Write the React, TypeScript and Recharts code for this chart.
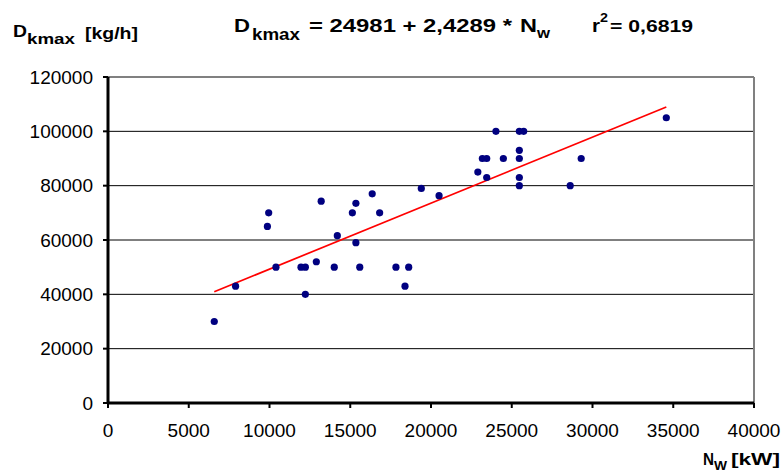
import React from 'react';
import { ScatterChart, Scatter, XAxis, YAxis, CartesianGrid, ReferenceLine } from 'recharts';

const nwKW = [6580, 7900, 10400, 11950, 12220, 12220, 12900, 14010, 15350, 15590, 17830, 18620, 18390, 9950, 9870, 13200, 14200, 15130, 15350, 16360, 16820, 19400, 20500, 22900, 23450, 23180, 23450, 24020, 24480, 25470, 25740, 25470, 25470, 25470, 25470, 28620, 29300, 34570];
const dkmaxKgH = [30000, 43000, 50000, 50000, 50000, 40000, 52000, 50000, 59000, 50000, 50000, 50000, 43000, 70000, 65000, 74300, 61600, 70000, 73500, 77000, 70000, 79000, 76300, 85000, 83000, 90000, 90000, 100000, 90000, 100000, 100000, 93000, 90000, 83000, 80000, 80000, 90000, 105000];
const xTicks = [0, 5000, 10000, 15000, 20000, 25000, 30000, 35000, 40000];
const yTicks = [0, 20000, 40000, 60000, 80000, 100000, 120000];
const intercept = 24981;
const slope = 2.4289;

const points = nwKW.map((x, i) => ({ x, y: dkmaxKgH[i] }));
const xMin = Math.min(...nwKW);
const xMax = Math.max(...nwKW);
const fitSegment = [
  { x: xMin, y: intercept + slope * xMin },
  { x: xMax, y: intercept + slope * xMax },
];

const FONT = '"Liberation Sans", Arial, sans-serif';
const tickStyle = { fontSize: 19, fill: '#000', fontFamily: FONT };

const Dot = (props: any) => {
  const { cx, cy } = props;
  if (cx == null || cy == null) return <g />;
  return <circle cx={cx} cy={cy} r={3.6} fill="#000080" />;
};

export default function App() {
  return (
    <div style={{ position: 'absolute', left: 0, top: 0, width: 784, height: 472, background: '#fff' }}>
      <ScatterChart width={784} height={472} margin={{ top: 77, right: 30, bottom: 29, left: 0 }}>
        <CartesianGrid vertical={false} stroke="#000" strokeWidth={1} />
        <XAxis
          type="number"
          dataKey="x"
          domain={[0, 40000]}
          ticks={xTicks}
          interval={0}
          height={40}
          tickSize={5}
          tickMargin={16}
          tick={tickStyle}
          axisLine={{ stroke: '#000', strokeWidth: 3 }}
          tickLine={{ stroke: '#000', strokeWidth: 2 }}
        />
        <YAxis
          type="number"
          dataKey="y"
          domain={[0, 120000]}
          ticks={yTicks}
          interval={0}
          width={108}
          tickSize={5}
          tickMargin={10}
          tick={tickStyle}
          axisLine={{ stroke: '#000', strokeWidth: 3 }}
          tickLine={{ stroke: '#000', strokeWidth: 2 }}
        />
        <ReferenceLine y={120000} stroke="#808080" strokeWidth={2} />
        <ReferenceLine x={40000} stroke="#808080" strokeWidth={2} />
        <Scatter data={points} shape={Dot} isAnimationActive={false} />
        <ReferenceLine segment={fitSegment} stroke="#ff0000" strokeWidth={1.7} />
      </ScatterChart>
      <svg width={784} height={472} style={{ position: 'absolute', left: 0, top: 0, pointerEvents: 'none' }}>
        <g fontFamily={FONT} fontWeight="bold" fill="#000">
          <text x={13} y={37} fontSize={17} textLength={14} lengthAdjust="spacingAndGlyphs">D</text>
          <text x={27} y={44} fontSize={15} textLength={48} lengthAdjust="spacingAndGlyphs">kmax</text>
          <text x={85} y={39} fontSize={16} textLength={53} lengthAdjust="spacingAndGlyphs">[kg/h]</text>

          <text x={234} y={32} fontSize={19} textLength={16} lengthAdjust="spacingAndGlyphs">D</text>
          <text x={252} y={40} fontSize={16} textLength={48} lengthAdjust="spacingAndGlyphs">kmax</text>
          <text x={309} y={32} fontSize={19} textLength={203} lengthAdjust="spacingAndGlyphs">= 24981 + 2,4289 *</text>
          <text x={520} y={32} fontSize={19} textLength={17} lengthAdjust="spacingAndGlyphs">N</text>
          <text x={537} y={38} fontSize={14} textLength={13} lengthAdjust="spacingAndGlyphs">w</text>
          <text x={592} y={32} fontSize={19} textLength={8} lengthAdjust="spacingAndGlyphs">r</text>
          <text x={600} y={22} fontSize={13} textLength={8} lengthAdjust="spacingAndGlyphs">2</text>
          <text x={610} y={32} fontSize={17} textLength={83} lengthAdjust="spacingAndGlyphs">= 0,6819</text>

          <text x={703} y={465} fontSize={16} textLength={11} lengthAdjust="spacingAndGlyphs">N</text>
          <text x={714} y={470} fontSize={12} textLength={13} lengthAdjust="spacingAndGlyphs">W</text>
          <text x={731} y={465} fontSize={16} textLength={49} lengthAdjust="spacingAndGlyphs">[kW]</text>
        </g>
      </svg>
    </div>
  );
}
